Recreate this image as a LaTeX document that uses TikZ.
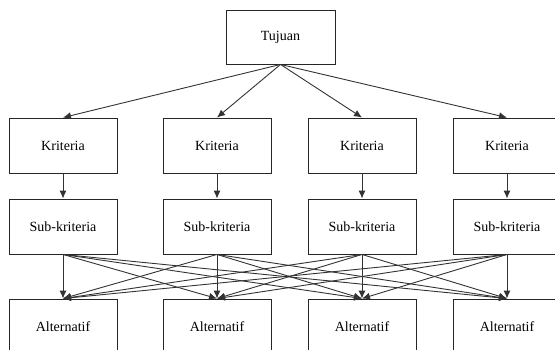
\documentclass[tikz,border=0pt]{standalone}
\usepackage{fontspec}
\setmainfont{Liberation Serif}
\usetikzlibrary{arrows.meta}
\begin{document}
\begin{tikzpicture}[x=1pt,y=-1pt,
  box/.style={draw=black!85, line width=0.9pt, rectangle, minimum width=108pt, minimum height=55pt, inner sep=0pt, font=\fontsize{14}{17}\selectfont},
  conn/.style={draw=black!80, line width=0.9pt, -{Latex[length=8pt,width=7pt]}}]
\useasboundingbox (0,0) rectangle (555,349);
\node[box, minimum width=109pt, minimum height=54pt] (t) at (280.5,37) {Tujuan};
\foreach \i/\x in {1/63,2/217,3/362,4/507}{
  \node[box] (k\i) at (\x,145.5) {Kriteria};
  \node[box] (s\i) at (\x,226.5) {Sub-kriteria};
  \node[box] (a\i) at (\x,326.5) {Alternatif};
}
\foreach \i in {1,2,3,4}{
  \draw[conn] (t.south) -- (k\i.north);
  \draw[conn] (k\i.south) -- (s\i.north);
  \foreach \j in {1,2,3,4}{
    \draw[conn] (s\i.south) -- (a\j.north);
  }
}
\end{tikzpicture}
\end{document}
